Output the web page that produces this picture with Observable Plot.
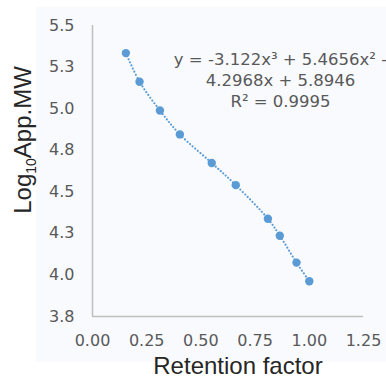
<!DOCTYPE html>
<html>
<head>
<meta charset="utf-8">
<script src="https://cdn.jsdelivr.net/npm/d3@7"></script>
<script src="https://cdn.jsdelivr.net/npm/@observablehq/plot@0.6"></script>
<style>
  html, body { margin: 0; padding: 0; background: #ffffff; }
  #wrap { position: relative; width: 386px; height: 378px; }
  #bg { position: absolute; left: 36px; top: 7px; width: 350px; height: 355px; background: #f8fafd; }
  #chart { position: absolute; left: 0; top: 0; }
  #chart svg { background: transparent !important; }
</style>
</head>
<body>
<div id="wrap"><div id="bg"></div><div id="chart"></div></div>
<script>
// Data
const retention = [0.154, 0.217, 0.311, 0.403, 0.550, 0.661, 0.809, 0.864, 0.941, 1.000];
const logMW     = [5.334, 5.162, 4.989, 4.845, 4.673, 4.540, 4.338, 4.236, 4.074, 3.962];

const xTicks = [0, 0.25, 0.5, 0.75, 1.0, 1.25];
const xTickLabels = ["0.00", "0.25", "0.50", "0.75", "1.00", "1.25"];
const yTicks = [3.75, 4.0, 4.25, 4.5, 4.75, 5.0, 5.25, 5.5];
const yTickLabels = ["3.8", "4.0", "4.3", "4.5", "4.8", "5.0", "5.3", "5.5"];

const xTitle = "Retention factor";
const yTitle = "Log10App.MW";
const equationText = "y = -3.122x³ + 5.4656x² -\n4.2968x + 5.8946\nR² = 0.9995";

const points = retention.map((x, i) => ({x, y: logMW[i]}));
const xLab = new Map(xTicks.map((t, i) => [t, xTickLabels[i]]));
const yLab = new Map(yTicks.map((t, i) => [t, yTickLabels[i]]));

const blue = "#5b9bd5";
const tickFont = "DejaVu Sans, Verdana, sans-serif";

const chart = Plot.plot({
  width: 386,
  height: 378,
  marginLeft: 92,
  marginRight: 23,
  marginTop: 25,
  marginBottom: 62,
  style: {fontFamily: tickFont, fontSize: "16px", color: "#595959", background: "transparent"},
  x: {domain: [0, 1.25]},
  y: {domain: [3.75, 5.5]},
  marks: [
    Plot.ruleX([0], {stroke: "#bfbfbf", strokeWidth: 1.5}),
    Plot.ruleY([3.75], {stroke: "#bfbfbf", strokeWidth: 1.5}),
    Plot.axisX({ticks: xTicks, tickFormat: d => xLab.get(d), tickSize: 0, tickPadding: 18, label: null, fill: "#595959"}),
    Plot.axisY({ticks: yTicks, tickFormat: d => yLab.get(d), tickSize: 0, tickPadding: 18, label: null, fill: "#595959"}),
    Plot.line(points, {x: "x", y: "y", curve: "catmull-rom", stroke: blue, strokeWidth: 2.2,
      strokeDasharray: "0 3.4", strokeLinecap: "round"}),
    Plot.dot(points, {x: "x", y: "y", r: 4.2, fill: blue, stroke: null}),
    Plot.text([equationText], {frameAnchor: "top", dx: 52.5, dy: 54, lineAnchor: "middle",
      lineHeight: 1.28, fontSize: 16.5, fill: "#595959", fontFamily: tickFont}),
    Plot.text([xTitle], {frameAnchor: "bottom", dx: 10, dy: 50, lineAnchor: "middle",
      fontSize: 24, fill: "#262626", fontFamily: "Liberation Sans, Arial, sans-serif"}),
    Plot.text([yTitle], {frameAnchor: "left", dx: -69, dy: -31, rotate: -90, lineAnchor: "middle",
      textAnchor: "middle", fontSize: 24, fill: "#262626", fontFamily: "Liberation Sans, Arial, sans-serif"})
  ]
});
document.getElementById("chart").appendChild(chart);

// subscript "10" in the y title
d3.select(chart).selectAll("text").filter(function() { return this.textContent === yTitle; })
  .each(function() {
    const t = d3.select(this);
    t.text(null);
    t.append("tspan").text("Log");
    t.append("tspan").attr("dy", "0.35em").attr("font-size", "14px").text("10");
    t.append("tspan").attr("dy", "-0.22em").text("App.MW");
  });
</script>
</body>
</html>
